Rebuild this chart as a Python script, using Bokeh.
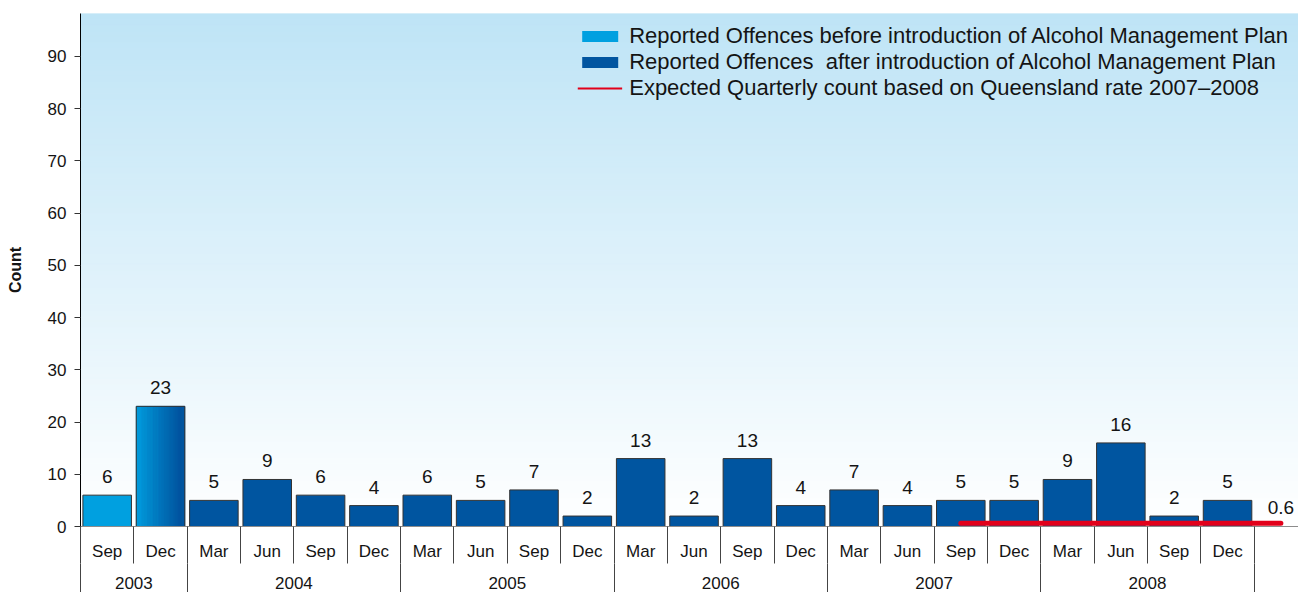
import numpy as np
from bokeh.plotting import figure
from bokeh.models import (Range1d, LinearAxis, FixedTicker, ColumnDataSource,
                          Legend, LegendItem)
from bokeh.core.properties import value
from bokeh.embed import file_html
from bokeh.resources import INLINE

# ---------------- data ----------------
quarters = ["Sep", "Dec",
            "Mar", "Jun", "Sep", "Dec",
            "Mar", "Jun", "Sep", "Dec",
            "Mar", "Jun", "Sep", "Dec",
            "Mar", "Jun", "Sep", "Dec",
            "Mar", "Jun", "Sep", "Dec"]
years = ["2003", "2004", "2005", "2006", "2007", "2008"]
quarters_per_year = [2, 4, 4, 4, 4, 4]
counts = [6, 23, 5, 9, 6, 4, 6, 5, 7, 2, 13, 2, 13, 4, 7, 4, 5, 5, 9, 16, 2, 5]
periods = ["before", "transition"] + ["after"] * 20
# expected quarterly count: from Sep 2007 through Dec 2008 plus the following quarter
expected_first_quarter = 16
expected_values = [0.6, 0.6, 0.6, 0.6, 0.6, 0.6, 0.6]

legend_labels = [
    "Reported Offences before introduction of Alcohol Management Plan",
    "Reported Offences  after introduction of Alcohol Management Plan",
    "Expected Quarterly count based on Queensland rate 2007\u20132008",
]

# ---------------- styles ----------------
FONT_NAME = "Liberation Sans"
FONT = value(FONT_NAME)
TXT = "#141414"
C_BEFORE = "#00A0E0"
C_AFTER = "#0055A0"
C_EXP = "#E2001A"
BG_TOP = (190, 228, 246)
Y_END = 98.2
X_END = 22.83
BAR_W = 0.91

n = len(counts)
xs = np.arange(n) + 0.5

p = figure(width=1298, height=592, output_backend="svg", toolbar_location=None,
           x_range=Range1d(0, X_END), y_range=Range1d(0, Y_END),
           x_axis_type=None,
           min_border_left=80, min_border_right=0, min_border_top=13,
           min_border_bottom=66)
p.outline_line_color = None
p.ygrid.grid_line_color = None
p.background_fill_color = "white"
p.border_fill_color = "white"

# background vertical gradient (light blue at top -> white at bottom)
nb = 90
edges = np.linspace(0, Y_END, nb + 1)
bg_cols = []
for i in range(nb):
    t = (edges[i] + edges[i + 1]) / 2 / Y_END
    r = int(round(255 + (BG_TOP[0] - 255) * t))
    g = int(round(255 + (BG_TOP[1] - 255) * t))
    b = int(round(255 + (BG_TOP[2] - 255) * t))
    bg_cols.append("#%02x%02x%02x" % (r, g, b))
p.quad(left=0, right=X_END, bottom=edges[:-1], top=edges[1:],
       fill_color=bg_cols, line_color=bg_cols, line_width=1)

# bars
fills = [C_BEFORE if pr == "before" else C_AFTER for pr in periods]
src = ColumnDataSource(dict(x=xs, top=counts, fill=fills,
                            label=[str(c) for c in counts]))
p.vbar(x="x", top="top", width=BAR_W, bottom=0, fill_color="fill",
       line_color=None, source=src)

# gradient fill for the transition quarter
def hexrgb(h):
    h = h.lstrip("#")
    return [int(h[i:i + 2], 16) for i in (0, 2, 4)]

c0, c1 = hexrgb(C_BEFORE), hexrgb(C_AFTER)
for i, pr in enumerate(periods):
    if pr != "transition":
        continue
    ns = 40
    left = xs[i] - BAR_W / 2
    se = left + np.arange(ns + 1) * BAR_W / ns
    cols = []
    for k in range(ns):
        t = min(1.0, (k + 0.5) / ns / 0.9)
        cols.append("#%02x%02x%02x" % tuple(int(round(a + (b - a) * t)) for a, b in zip(c0, c1)))
    p.quad(left=se[:-1], right=se[1:], bottom=0, top=counts[i],
           fill_color=cols, line_color=cols, line_width=0.6)

p.vbar(x="x", top="top", width=BAR_W, bottom=0, fill_color=None,
       line_color="#333333", line_width=1, source=src)

p.text(x="x", y="top", text="label", source=src, text_align="center",
       text_baseline="bottom", y_offset=-12, text_font=FONT,
       text_font_size="19px", text_color=TXT)

# expected line
exp_x = list(np.arange(expected_first_quarter,
                       expected_first_quarter + len(expected_values)) + 0.5)
p.line(exp_x, expected_values, line_color=C_EXP, line_width=5, line_cap="round")
p.text(x=[exp_x[-1]], y=[expected_values[-1]], text=["%g" % expected_values[-1]],
       text_align="center", text_baseline="bottom", y_offset=-9, text_font=FONT,
       text_font_size="19px", text_color=TXT)

# ---------------- axes ----------------
yax = p.yaxis[0]
yax.ticker = FixedTicker(ticks=list(range(0, 100, 10)))
yax.axis_line_color = "black"
yax.axis_line_width = 1
yax.major_tick_out = 6
yax.major_tick_in = 0
yax.minor_tick_out = 0
yax.minor_tick_in = 0
yax.major_tick_line_color = "#333333"
yax.major_label_standoff = 8
yax.major_label_text_font = FONT_NAME
yax.major_label_text_font_size = "17px"
yax.major_label_text_color = TXT
yax.axis_label = "Count"
yax.axis_label_text_font = FONT_NAME
yax.axis_label_text_font_size = "16px"
yax.axis_label_text_font_style = "bold"
yax.axis_label_text_color = TXT
yax.axis_label_standoff = 21

# quarter level (separators drawn as outward minor ticks via negative tick_in)
ax1 = LinearAxis(ticker=FixedTicker(ticks=list(xs), minor_ticks=list(range(0, n + 1))),
                 major_label_overrides={float(x): q for x, q in zip(xs, quarters)})
ax1.axis_line_color = "#8c8c8c"
ax1.major_tick_out = 0
ax1.major_tick_in = 0
ax1.minor_tick_out = 0
ax1.minor_tick_in = -37
ax1.minor_tick_line_color = "#444444"
ax1.major_label_standoff = 15
ax1.major_label_text_font = FONT_NAME
ax1.major_label_text_font_size = "17px"
ax1.major_label_text_color = TXT
p.add_layout(ax1, "below")

# year level
bounds = [0]
for q in quarters_per_year:
    bounds.append(bounds[-1] + q)
ycent = [(bounds[i] + bounds[i + 1]) / 2 for i in range(len(years))]
ax2 = LinearAxis(ticker=FixedTicker(ticks=ycent, minor_ticks=bounds),
                 major_label_overrides={float(c): y for c, y in zip(ycent, years)})
ax2.axis_line_color = None
ax2.major_tick_out = 0
ax2.major_tick_in = 0
ax2.minor_tick_out = 0
ax2.minor_tick_in = -36
ax2.minor_tick_line_color = "#444444"
ax2.major_label_standoff = 13
ax2.major_label_text_font = FONT_NAME
ax2.major_label_text_font_size = "17px"
ax2.major_label_text_color = TXT
p.add_layout(ax2, "below")

# ---------------- legend ----------------
# legend-only renderers, placed outside the visible range
off_q = ColumnDataSource(dict(left=[X_END + 1], right=[X_END + 2], top=[1], bottom=[0]))
off_l = ColumnDataSource(dict(x=[X_END + 1, X_END + 2], y=[1, 1]))
r_b = p.quad(left="left", right="right", top="top", bottom="bottom",
             fill_color=C_BEFORE, line_color=None, source=off_q)
r_a = p.quad(left="left", right="right", top="top", bottom="bottom",
             fill_color=C_AFTER, line_color=None, source=off_q)
r_e = p.line(x="x", y="y", line_color=C_EXP, line_width=2, source=off_l)
legend = Legend(items=[LegendItem(label=legend_labels[0], renderers=[r_b]),
                       LegendItem(label=legend_labels[1], renderers=[r_a]),
                       LegendItem(label=legend_labels[2], renderers=[r_e])],
                location="top_right")
legend.margin = 0
legend.padding = 10
legend.spacing = -2
legend.glyph_width = 45
legend.glyph_height = 14
legend.label_standoff = 7
legend.label_text_font = FONT_NAME
legend.label_text_font_size = "22px"
legend.label_text_color = TXT
legend.background_fill_alpha = 0
legend.border_line_alpha = 0
p.add_layout(legend)

open("out.html", "w").write(file_html(p, INLINE))
